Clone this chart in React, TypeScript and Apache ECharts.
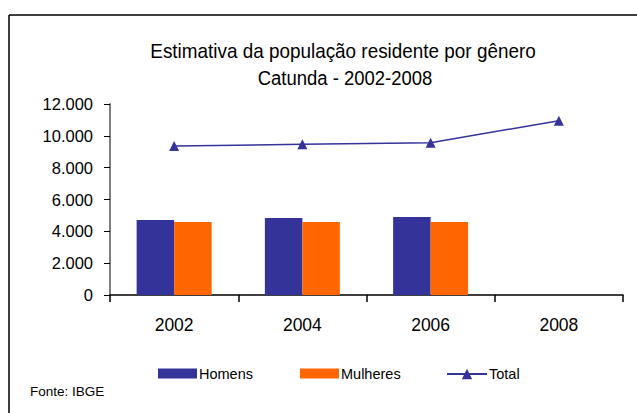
import React, { useEffect, useRef } from "react";
import * as echarts from "echarts";

const years = ["2002", "2004", "2006", "2008"];
const homens = [4712, 4838, 4900, null];
const mulheres = [4586, 4586, 4586, null];
const total = [9360, 9466, 9570, 10950];
const titleLines = ["Estimativa da população residente por gênero", "Catunda - 2002-2008"];
const sourceText = "Fonte: IBGE";

const fmt = (v: number) => {
  const s = String(Math.round(v));
  return s.replace(/\B(?=(\d{3})+(?!\d))/g, ".");
};

export default function App() {
  const ref = useRef<HTMLDivElement>(null);
  useEffect(() => {
    if (!ref.current) return;
    const chart = echarts.init(ref.current, null, { renderer: "svg" });
    const font = "'Liberation Sans', Arial, sans-serif";
    const legendBase = {
      top: 361,
      itemWidth: 39,
      itemHeight: 10,
      itemGap: 0,
      textStyle: { fontFamily: font, fontSize: 14.5, color: "#000", padding: [0, 0, 0, -3] },
    };
    chart.setOption({
      animation: false,
      backgroundColor: "#fff",
      legend: [
        { ...legendBase, left: 153, icon: "rect", data: [{ name: "Homens" }] },
        { ...legendBase, left: 295, icon: "rect", data: [{ name: "Mulheres" }] },
        { ...legendBase, left: 441, top: 361.5, itemHeight: 13, itemWidth: 40, data: [{ name: "Total" }] },
      ],
      grid: { left: 110, right: 14, top: 104, bottom: 118, containLabel: false },
      xAxis: {
        type: "category",
        data: years,
        axisLine: { lineStyle: { color: "#000", width: 1.5 } },
        axisTick: { show: true, length: 7, lineStyle: { color: "#000", width: 1.5 } },
        axisLabel: { fontFamily: font, fontSize: 17.5, color: "#000", margin: 21 },
      },
      yAxis: {
        type: "value",
        min: 0,
        max: 12000,
        interval: 2000,
        splitLine: { show: false },
        axisLine: { show: true, lineStyle: { color: "#808080", width: 2 } },
        axisTick: { show: true, length: 6, lineStyle: { color: "#000", width: 1 } },
        axisLabel: { fontFamily: font, fontSize: 16.5, color: "#000", margin: 17, formatter: (v: number) => fmt(v) },
      },
      series: [
        {
          name: "Homens",
          type: "bar",
          data: homens,
          barWidth: 37.5,
          barGap: "0%",
          itemStyle: { color: "#333399" },
        },
        {
          name: "Mulheres",
          type: "bar",
          data: mulheres,
          barWidth: 37.5,
          barGap: "0%",
          itemStyle: { color: "#FF6600" },
        },
        {
          name: "Total",
          type: "line",
          data: total,
          symbol: "triangle",
          symbolSize: 10,
          lineStyle: { color: "#333399", width: 1.5 },
          itemStyle: { color: "#333399" },
        },
      ],
      graphic: [
        { type: "line", shape: { x1: 9, y1: 15, x2: 637, y2: 15 }, style: { stroke: "#000", lineWidth: 1.5 } },
        { type: "line", shape: { x1: 9, y1: 15, x2: 9, y2: 413 }, style: { stroke: "#000", lineWidth: 1.5 } },
        {
          type: "text",
          x: 343,
          y: 51,
          scaleX: 0.9,
          style: {
            text: titleLines[0],
            x: 0,
            y: 0,
            align: "center",
            verticalAlign: "middle",
            fontFamily: font,
            fontSize: 21,
            fill: "#000",
          },
        },
        {
          type: "text",
          x: 345,
          y: 78,
          scaleX: 0.88,
          style: {
            text: titleLines[1],
            x: 0,
            y: 0,
            align: "center",
            verticalAlign: "middle",
            fontFamily: font,
            fontSize: 21,
            fill: "#000",
          },
        },
        {
          type: "text",
          x: 30,
          y: 391,
          style: {
            text: sourceText,
            align: "left",
            verticalAlign: "middle",
            fontFamily: font,
            fontSize: 13.5,
            fill: "#000",
          },
        },
      ],
    });
    return () => chart.dispose();
  }, []);
  return (
    <div
      ref={ref}
      style={{ position: "fixed", left: 0, top: 0, width: 637, height: 413 }}
    />
  );
}
